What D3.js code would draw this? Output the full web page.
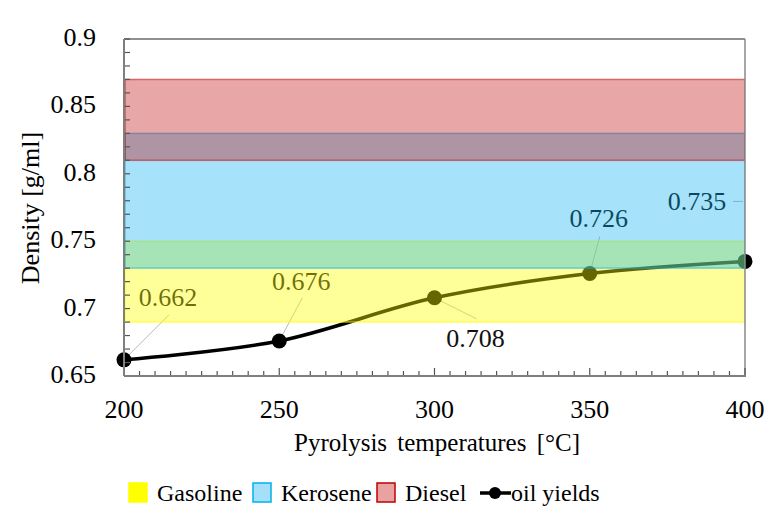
<!DOCTYPE html>
<html>
<head>
<meta charset="utf-8">
<script src="https://cdn.jsdelivr.net/npm/d3@7"></script>
</head>
<body style="margin:0;background:#fff">
<svg id="chart" width="767" height="518"></svg>
<script>
  // data
  var temperatures = [200, 250, 300, 350, 400];
  var densities = [0.662, 0.676, 0.708, 0.726, 0.735];
  var bandNames = ["Gasoline", "Kerosene", "Diesel"];
  var bandLow = [0.69, 0.73, 0.81];
  var bandHigh = [0.75, 0.83, 0.87];
  var xTicks = [200, 250, 300, 350, 400];
  var yTicks = [0.65, 0.7, 0.75, 0.8, 0.85, 0.9];

  var bandFill = ["#ffff00", "#00b0f0", "#c00000"];
  var bandOpacity = [0.4, 0.35, 0.35];

  var FONT = "Liberation Serif";
  var svg = d3.select("#chart");
  var pLeft = 124, pRight = 745, pTop = 39, pBottom = 376;

  var x = d3.scaleLinear().domain([200, 400]).range([pLeft, pRight]);
  var y = d3.scaleLinear().domain([0.65, 0.9]).range([pBottom, pTop]);

  svg.append("clipPath").attr("id", "plot-clip")
    .append("rect")
    .attr("x", pLeft).attr("y", pTop)
    .attr("width", pRight - pLeft).attr("height", pBottom - pTop);

  // leader lines + labels (drawn under the bands, like the original)
  var labelPos = [
    { dx: 44, dy: -54, lx: 45, ly: -45 },
    { dx: 22, dy: -51, lx: 23, ly: -43 },
    { dx: 41, dy: 49, lx: 42, ly: 21 },
    { dx: 9, dy: -47, lx: 10, ly: -37 },
    { dx: -48, dy: -51, lx: -12, ly: -60 }
  ];

  var lbl = svg.append("g");
  densities.forEach(function (d, i) {
    var px = x(temperatures[i]), py = y(d), p = labelPos[i];
    if (i === 4) {
      lbl.append("line")
        .attr("x1", px + p.lx).attr("y1", py + p.ly)
        .attr("x2", px - 2).attr("y2", py + p.ly)
        .attr("stroke", "#bbbbbb").attr("stroke-width", 1);
    } else {
      lbl.append("line")
        .attr("x1", px).attr("y1", py)
        .attr("x2", px + p.lx).attr("y2", py + p.ly)
        .attr("stroke", "#bbbbbb").attr("stroke-width", 1);
    }
    lbl.append("text")
      .attr("x", px + p.dx).attr("y", py + p.dy)
      .attr("text-anchor", "middle")
      .attr("font-family", FONT)
      .attr("font-size", 26)
      .attr("fill", "#111")
      .text(d.toFixed(3));
  });

  // oil yield curve
  var line = d3.line()
    .x(function (d, i) { return x(temperatures[i]); })
    .y(function (d) { return y(d); })
    .curve(d3.curveCardinal.tension(0));

  svg.append("path")
    .datum(densities)
    .attr("d", line)
    .attr("fill", "none")
    .attr("stroke", "#000")
    .attr("stroke-width", 3.5);

  svg.append("g").selectAll("circle")
    .data(densities)
    .enter().append("circle")
    .attr("cx", function (d, i) { return x(temperatures[i]); })
    .attr("cy", function (d) { return y(d); })
    .attr("r", 7.5)
    .attr("fill", "#000");

  // fuel bands on top, semi transparent
  svg.append("g")
    .attr("clip-path", "url(#plot-clip)")
    .selectAll("rect")
    .data(bandNames)
    .enter().append("rect")
    .attr("x", pLeft + 1)
    .attr("width", pRight - pLeft - 1)
    .attr("y", function (d, i) { return y(bandHigh[i]); })
    .attr("height", function (d, i) { return y(bandLow[i]) - y(bandHigh[i]); })
    .attr("fill", function (d, i) { return bandFill[i]; })
    .attr("fill-opacity", function (d, i) { return bandOpacity[i]; })
    .attr("stroke", function (d, i) { return bandFill[i]; })
    .attr("stroke-opacity", function (d, i) { return bandOpacity[i] + 0.15; })
    .attr("stroke-width", 1.5);

  // frame
  svg.append("line").attr("x1", pLeft).attr("x2", pRight).attr("y1", pTop).attr("y2", pTop)
    .attr("stroke", "#222").attr("stroke-width", 1.2);
  svg.append("line").attr("x1", pRight).attr("x2", pRight).attr("y1", pTop).attr("y2", pBottom)
    .attr("stroke", "#888").attr("stroke-width", 1.5);

  // minor ticks (inward)
  var minorY = d3.range(65, 91).map(function (v) { return v / 100; });
  var minorX = d3.range(200, 401, 5);
  var tk = svg.append("g").attr("stroke", "#555").attr("stroke-width", 1.2);
  minorY.forEach(function (v) {
    tk.append("line").attr("x1", pLeft).attr("x2", pLeft + 6)
      .attr("y1", y(v)).attr("y2", y(v));
  });
  minorX.forEach(function (v) {
    var len = v % 50 === 0 ? 8 : 5;
    tk.append("line").attr("x1", x(v)).attr("x2", x(v))
      .attr("y1", pBottom).attr("y2", pBottom - len);
  });

  // axes
  svg.append("line").attr("x1", pLeft).attr("x2", pLeft).attr("y1", pTop).attr("y2", pBottom)
    .attr("stroke", "#7f7f7f").attr("stroke-width", 2);
  svg.append("line").attr("x1", pLeft).attr("x2", pRight + 1).attr("y1", pBottom).attr("y2", pBottom)
    .attr("stroke", "#7f7f7f").attr("stroke-width", 2);

  svg.append("g").selectAll("text")
    .data(yTicks)
    .enter().append("text")
    .attr("x", 96)
    .attr("y", function (d) { return y(d) + 7; })
    .attr("text-anchor", "end")
    .attr("font-family", FONT)
    .attr("font-size", 26)
    .text(function (d) { return d; });

  svg.append("g").selectAll("text")
    .data(xTicks)
    .enter().append("text")
    .attr("x", function (d) { return x(d); })
    .attr("y", 418)
    .attr("text-anchor", "middle")
    .attr("font-family", FONT)
    .attr("font-size", 26)
    .text(function (d) { return d; });

  svg.append("text")
    .attr("transform", "translate(39, 208) rotate(-90)")
    .attr("text-anchor", "middle")
    .attr("font-family", FONT)
    .attr("font-size", 26)
    .text("Density [g/ml]");

  svg.append("text")
    .attr("x", 437).attr("y", 451)
    .attr("text-anchor", "middle")
    .attr("font-family", FONT)
    .attr("font-size", 25)
    .attr("word-spacing", 4)
    .text("Pyrolysis temperatures [°C]");

  // legend
  var leg = svg.append("g").attr("font-family", FONT).attr("font-size", 24);
  var legX = [128, 252, 376];
  var legFill = ["#ffff00", "#a4e1f8", "#e8a2a2"];
  var legStroke = ["#ffff00", "#00b0f0", "#c00000"];
  bandNames.forEach(function (name, i) {
    leg.append("rect")
      .attr("x", legX[i] + 1).attr("y", 483)
      .attr("width", 18).attr("height", 19)
      .attr("fill", legFill[i])
      .attr("stroke", legStroke[i]).attr("stroke-width", 1.5);
    leg.append("text")
      .attr("x", legX[i] + 29).attr("y", 501)
      .text(name);
  });
  leg.append("line").attr("x1", 480).attr("x2", 511).attr("y1", 493).attr("y2", 493)
    .attr("stroke", "#000").attr("stroke-width", 3.5);
  leg.append("circle").attr("cx", 495).attr("cy", 493).attr("r", 6).attr("fill", "#000");
  leg.append("text").attr("x", 511).attr("y", 501).text("oil yields");
</script>
</body>
</html>
